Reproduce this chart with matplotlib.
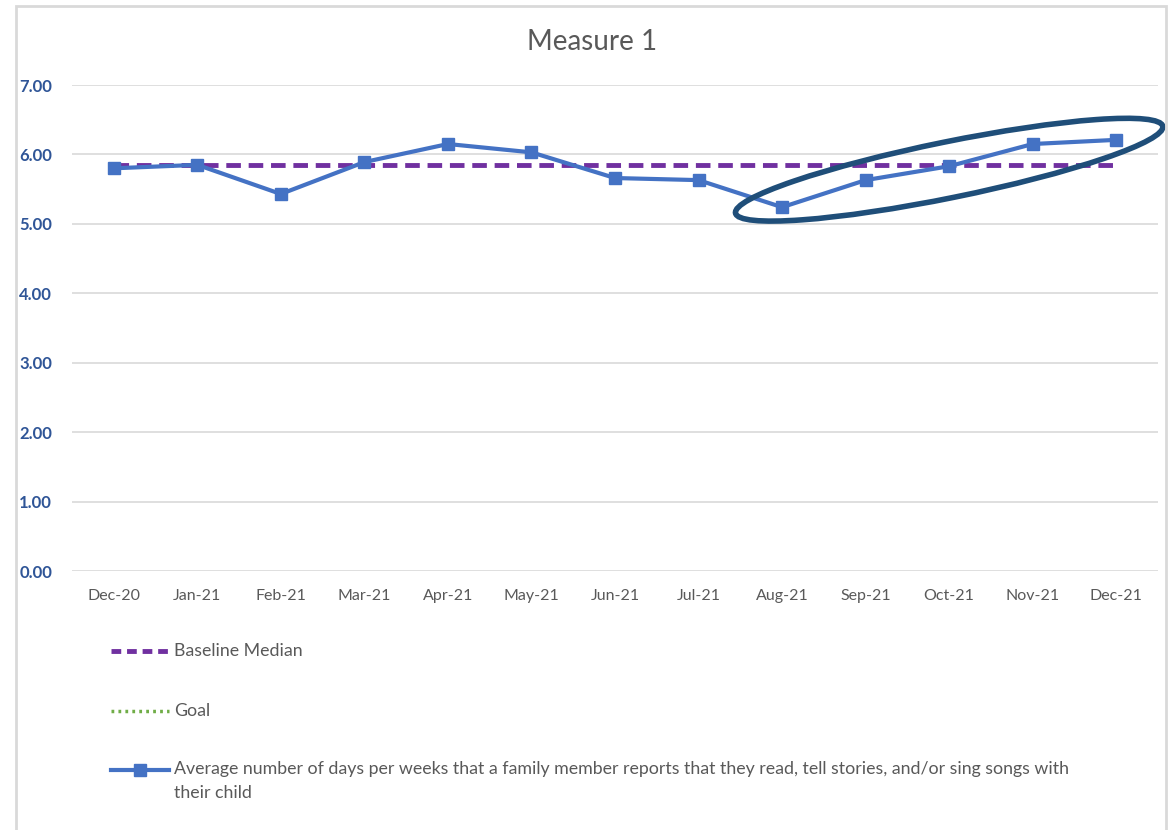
import matplotlib.pyplot as plt
from matplotlib.lines import Line2D
from matplotlib.patches import Ellipse, Rectangle

months = ["Dec-20", "Jan-21", "Feb-21", "Mar-21", "Apr-21", "May-21", "Jun-21",
          "Jul-21", "Aug-21", "Sep-21", "Oct-21", "Nov-21", "Dec-21"]
avg_days = [5.80, 5.85, 5.43, 5.89, 6.15, 6.03, 5.66, 5.63, 5.24, 5.63, 5.83, 6.15, 6.21]
baseline_median = [5.85] * len(months)
y_ticks = [0, 1, 2, 3, 4, 5, 6, 7]

series_label = ("Average number of days per weeks that a family member reports that they read, "
                "tell stories, and/or sing songs with\ntheir child")

plt.rcParams["font.family"] = ["Lato", "DejaVu Sans"]

W, H = 1169, 830
fig = plt.figure(figsize=(W / 100, H / 100), dpi=100)
ax = fig.add_axes([72 / W, 1 - 571 / H, (1158 - 72) / W, (571 - 85) / H])

dash = (0, (3.0, 1.6))
x = list(range(len(months)))
ax.plot(x, baseline_median, color="#7030A0", lw=3.5, ls=dash, zorder=2)
ax.plot(x, avg_days, color="#4472C4", lw=3, marker="s", ms=8, zorder=3)

ax.set_xlim(-0.5, len(months) - 0.5)
ax.set_ylim(0, 7)
ax.set_yticks(y_ticks)
ax.set_yticklabels([f"{v:.2f}" for v in y_ticks], fontsize=12, fontweight="bold", color="#2F5597")
ax.set_xticks(x)
ax.set_xticklabels(months, fontsize=11.5, color="#595959")
ax.tick_params(axis="both", length=0)
ax.tick_params(axis="x", pad=13)
for lbl in ax.get_yticklabels():
    lbl.set_horizontalalignment("left")
ax.yaxis.set_tick_params(pad=38)
ax.grid(axis="y", color="#D9D9D9", lw=1.2)
ax.set_axisbelow(True)
for s in ax.spines.values():
    s.set_visible(False)

fig.text(592 / W, 1 - 42 / H, "Measure 1", ha="center", va="center", fontsize=20, color="#595959")

# highlight ellipse around the recent upward trend (drawn in pixel space)
fig.canvas.draw()
cx, cy = ax.transData.transform((10.0, 5.78))
ax.add_patch(Ellipse((cx, cy), 436, 56, angle=11.5, transform=None, fill=False,
                     edgecolor="#1F4E79", lw=4, zorder=5, clip_on=False))

# chart border
fig.add_artist(Rectangle((16 / W, -0.05), (1166 - 16) / W, 1.05 - 6 / H, transform=fig.transFigure,
                         fill=False, edgecolor="#D9D9D9", lw=2))

# legend
leg = [
    (651, dict(color="#7030A0", lw=3.5, ls=(0, (2.0, 1.2))), "Baseline Median"),
    (711, dict(color="#70AD47", lw=2.5, ls=(0, (0.8, 1.2))), "Goal"),
    (770, dict(color="#4472C4", lw=3, marker="s", ms=8, markevery=[1]), series_label),
]
for yp, style, text in leg:
    fy = 1 - yp / H
    fig.add_artist(Line2D([111 / W, 140 / W, 169 / W], [fy] * 3, transform=fig.transFigure, **style))
    if "\n" in text:
        fig.text(174 / W, fy + 9 / H, text, ha="left", va="top",
                 fontsize=12.8, color="#595959", linespacing=1.6)
    else:
        fig.text(174 / W, fy, text, ha="left", va="center", fontsize=12.8, color="#595959")

fig.savefig("out.png", dpi=100)
